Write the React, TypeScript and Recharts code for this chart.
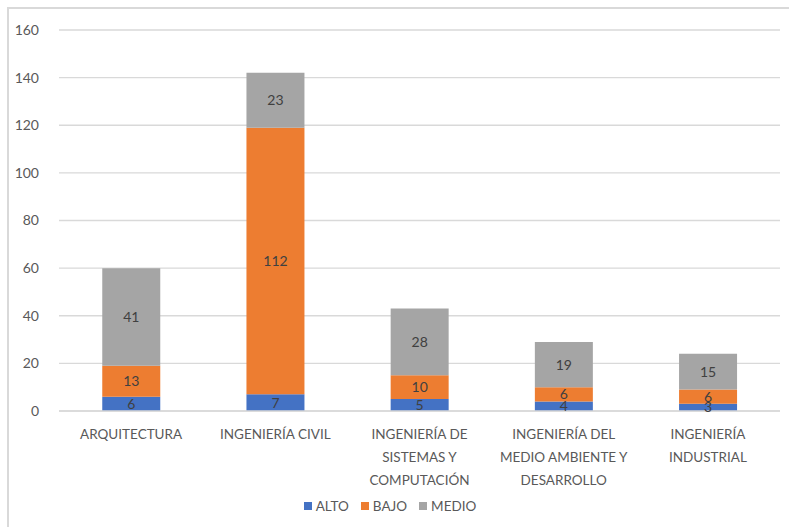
import {
  BarChart,
  Bar,
  XAxis,
  YAxis,
  CartesianGrid,
  LabelList,
  Legend,
} from "recharts";

/* ================= DATA ================= */

const categories = [
  "ARQUITECTURA",
  "INGENIERÍA CIVIL",
  "INGENIERÍA DE SISTEMAS Y COMPUTACIÓN",
  "INGENIERÍA DEL MEDIO AMBIENTE Y DESARROLLO",
  "INGENIERÍA INDUSTRIAL",
];

const tickLines = [
  ["ARQUITECTURA"],
  ["INGENIERÍA CIVIL"],
  ["INGENIERÍA DE", "SISTEMAS Y", "COMPUTACIÓN"],
  ["INGENIERÍA DEL", "MEDIO AMBIENTE Y", "DESARROLLO"],
  ["INGENIERÍA", "INDUSTRIAL"],
];

const alto = [6, 7, 5, 4, 3];
const bajo = [13, 112, 10, 6, 6];
const medio = [41, 23, 28, 19, 15];

const yTicks = [0, 20, 40, 60, 80, 100, 120, 140, 160];

const SERIES = [
  { key: "ALTO", color: "#4472C4" },
  { key: "BAJO", color: "#ED7D31" },
  { key: "MEDIO", color: "#A5A5A5" },
];

const data = categories.map((name, i) => ({
  name,
  ALTO: alto[i],
  BAJO: bajo[i],
  MEDIO: medio[i],
}));

const FONT = "Lato, 'Liberation Sans', sans-serif";

/* ================= PARTS ================= */

function CategoryTick(props: any) {
  const { x, y, payload } = props;
  const lines = tickLines[payload.index] ?? [payload.value];
  return (
    <g transform={`translate(${x},${y})`}>
      {lines.map((line: string, i: number) => (
        <text
          key={i}
          x={0}
          y={20 + i * 23}
          textAnchor="middle"
          fill="#595959"
          fontSize={13.5}
          fontFamily={FONT}
        >
          {line}
        </text>
      ))}
    </g>
  );
}

function LegendContent() {
  return (
    <div
      style={{
        display: "flex",
        justifyContent: "center",
        gap: 12,
        fontFamily: FONT,
        fontSize: 13.5,
        color: "#595959",
      }}
    >
      {SERIES.map((s) => (
        <span key={s.key} style={{ display: "flex", alignItems: "center" }}>
          <span
            style={{
              width: 8,
              height: 8,
              background: s.color,
              display: "inline-block",
              marginRight: 4,
            }}
          />
          {s.key}
        </span>
      ))}
    </div>
  );
}

/* ================= COMPONENT ================= */

export default function App() {
  return (
    <div style={styles.page}>
      <div style={styles.frame} />
      <BarChart
        width={789}
        height={527}
        data={data}
        barCategoryGap="30%"
        margin={{ top: 30, right: 9, bottom: 5, left: 0 }}
      >
        <CartesianGrid vertical={false} stroke="#d9d9d9" strokeWidth={1.3} />
        <XAxis
          dataKey="name"
          tick={<CategoryTick />}
          tickLine={false}
          axisLine={{ stroke: "#d9d9d9", strokeWidth: 1.3 }}
          interval={0}
          height={87}
        />
        <YAxis
          domain={[0, 160]}
          ticks={yTicks}
          width={59}
          tickLine={false}
          axisLine={false}
          tickMargin={14}
          tick={{ fill: "#595959", fontSize: 14, fontFamily: FONT }}
        />
        <Legend
          verticalAlign="bottom"
          height={24}
          content={<LegendContent />}
        />
        {SERIES.map((s) => (
          <Bar
            key={s.key}
            dataKey={s.key}
            stackId="a"
            fill={s.color}
            isAnimationActive={false}
          >
            <LabelList
              dataKey={s.key}
              position="center"
              fill="#404040"
              fontSize={14}
              fontFamily={FONT}
            />
          </Bar>
        ))}
      </BarChart>
    </div>
  );
}

/* ================= STYLES ================= */

const styles: Record<string, React.CSSProperties> = {
  page: {
    position: "absolute",
    left: 0,
    top: 0,
    width: 789,
    height: 527,
    background: "#fff",
  },
  frame: {
    position: "absolute",
    left: 7,
    top: 7,
    width: 800,
    height: 540,
    border: "2px solid #d9d9d9",
  },
};
